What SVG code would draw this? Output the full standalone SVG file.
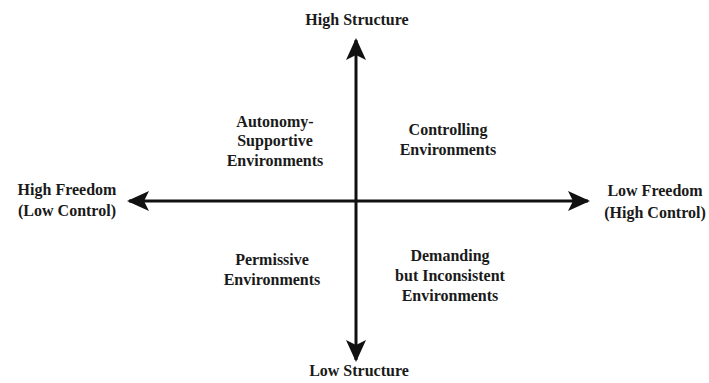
<svg xmlns="http://www.w3.org/2000/svg" width="709" height="383" viewBox="0 0 709 383">
  <style>
    .lbl { font-family: "Liberation Serif", "Times New Roman", serif; font-weight: bold; font-size: 16px; fill: #1a1a1a; text-anchor: middle; }
    .axis { stroke: #111; stroke-width: 3; fill: none; }
  </style>
  <defs>
    <marker id="head" viewBox="0 0 22 20" refX="20" refY="10" markerWidth="22" markerHeight="20" markerUnits="userSpaceOnUse" orient="auto">
      <path d="M0,0 L22,10 L0,20 L5,10 Z" fill="#111"/>
    </marker>
  </defs>
  <rect width="709" height="383" fill="#fff"/>

  <!-- axes -->
  <g id="connectors">
    <line class="axis" x1="356" y1="200" x2="356" y2="40" marker-end="url(#head)"/>
    <line class="axis" x1="356" y1="200" x2="356" y2="360" marker-end="url(#head)"/>
    <line class="axis" x1="356" y1="201" x2="129" y2="201" marker-end="url(#head)"/>
    <line class="axis" x1="356" y1="201" x2="588" y2="201" marker-end="url(#head)"/>
  </g>

  <!-- axis end labels -->
  <g id="high-structure"><text class="lbl" x="357" y="25">High Structure</text></g>
  <g id="low-structure"><text class="lbl" x="359" y="376">Low Structure</text></g>
  <g id="high-freedom">
    <text class="lbl" x="67" y="195">High Freedom</text>
    <text class="lbl" x="67" y="216">(Low Control)</text>
  </g>
  <g id="low-freedom">
    <text class="lbl" x="655" y="196">Low Freedom</text>
    <text class="lbl" x="655" y="218">(High Control)</text>
  </g>

  <!-- quadrants -->
  <g id="autonomy-supportive">
    <text class="lbl" x="275" y="127">Autonomy-</text>
    <text class="lbl" x="275" y="146">Supportive</text>
    <text class="lbl" x="275" y="166">Environments</text>
  </g>
  <g id="controlling">
    <text class="lbl" x="448" y="135">Controlling</text>
    <text class="lbl" x="448" y="155">Environments</text>
  </g>
  <g id="permissive">
    <text class="lbl" x="272" y="265">Permissive</text>
    <text class="lbl" x="272" y="285">Environments</text>
  </g>
  <g id="demanding">
    <text class="lbl" x="450" y="261">Demanding</text>
    <text class="lbl" x="450" y="281">but Inconsistent</text>
    <text class="lbl" x="450" y="301">Environments</text>
  </g>
</svg>
